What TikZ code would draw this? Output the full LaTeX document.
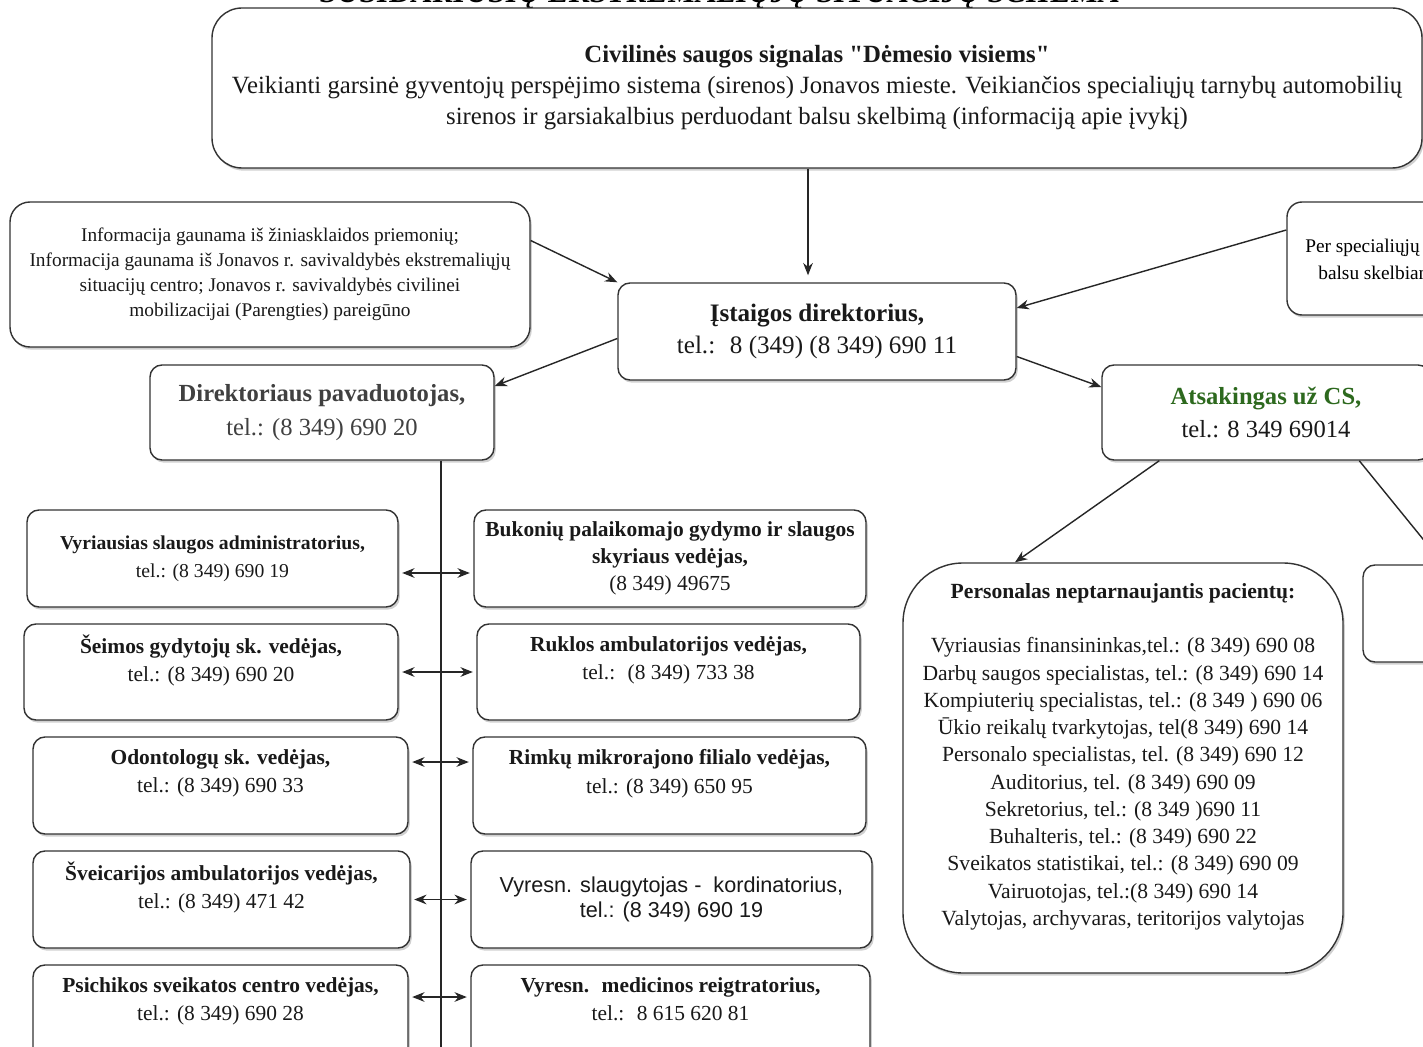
\documentclass[tikz,border=0pt]{standalone}
\usepackage{fontspec}
\setmainfont{Liberation Serif}[Ligatures=TeXOff]
\newfontfamily\arialfont{Liberation Sans}
\usetikzlibrary{arrows.meta}
\usetikzlibrary{shadows}
\definecolor{csgreen}{RGB}{45,105,30}
\definecolor{txtgray}{RGB}{64,64,64}

\begin{document}
\begin{tikzpicture}[x=0.02cm, y=-0.02cm,
		>={Stealth[length=7pt,width=5.5pt]},
		box/.style={draw=black!80, line width=0.8pt, fill=white, rounded corners=0.24cm,
			align=center, inner sep=0pt, text=black!90,
			drop shadow={shadow xshift=1pt, shadow yshift=-1.5pt, opacity=0.3, fill=black!60}},
		sz/.style 2 args={minimum width=#1*0.02cm, minimum height=#2*0.02cm},
		big/.style={font=\fontsize{14.3}{18.3}\selectfont},
		mid/.style={font=\fontsize{12.2}{16}\selectfont},
		sml/.style={font=\fontsize{11}{14.2}\selectfont}]
	
	\fill[white] (0,0) rectangle (1423,1047);
	\useasboundingbox (0,0) rectangle (1423,1047);
	
	% title, cut at the top edge
	\node[font=\fontsize{17.8}{20}\bfseries\itshape\selectfont, anchor=base] (title) at (720,3)
		{SUSIDARIUSIŲ EKSTREMALIŲJŲ SITUACIJŲ SCHEMA};
	
	\node[box, sz={1210}{160}, rounded corners=0.6cm, font=\fontsize{14.1}{17.6}\selectfont] (sig) at (817,88)
		{\textbf{Civilinės saugos signalas "Dėmesio visiems"}\\
		 Veikianti garsinė gyventojų perspėjimo sistema (sirenos) Jonavos mieste. Veikiančios specialiųjų tarnybų automobilių\\
		 sirenos ir garsiakalbius perduodant balsu skelbimą (informaciją apie įvykį)};
	
	\node[box, sz={520}{145}, rounded corners=0.4cm, sml] (info) at (270,274.5)
		{Informacija gaunama iš žiniasklaidos priemonių;\\
		 Informacija gaunama iš Jonavos r. savivaldybės ekstremaliųjų\\
		 situacijų centro; Jonavos r. savivaldybės civilinei\\
		 mobilizacijai (Parengties) pareigūno};
	
	\node[box, sz={313}{113}, rounded corners=0.3cm] (spec) at (1443.5,258.5) {};
	\node[font=\fontsize{11}{15.4}\selectfont, anchor=base west, align=left, inner sep=0pt] (spec-t) at (1305,280)
		{Per specialiųjų tarnybų\\\hspace*{0.26cm}balsu skelbiamą};
	
	\node[box, sz={398}{97}, big] (dir) at (817,331.5)
		{\textbf{Įstaigos direktorius,}\\tel.:~ 8 (349) (8 349) 690 11};
	\node[box, sz={344}{95}, font=\fontsize{14}{19}\selectfont, text=txtgray] (pav) at (322,412.5)
		{\textbf{Direktoriaus pavaduotojas,}\\tel.: (8 349) 690 20};
	\node[box, sz={328}{95}, font=\fontsize{14}{19}\selectfont] (cs) at (1266,412.5)
		{\textbf{\textcolor{csgreen}{Atsakingas už CS,}}\\tel.: 8 349 69014};
	
	\node[box, sz={440}{410}, rounded corners=1.2cm, font=\fontsize{12.3}{15.5}\selectfont] (pers) at (1123,768)
		{\textbf{Personalas neptarnaujantis pacientų:}\\ ~\\
		 Vyriausias finansininkas,tel.: (8 349) 690 08\\
		 Darbų saugos specialistas, tel.: (8 349) 690 14\\
		 Kompiuterių specialistas, tel.: (8 349 ) 690 06\\
		 Ūkio reikalų tvarkytojas, tel(8 349) 690 14\\
		 Personalo specialistas, tel. (8 349) 690 12\\
		 Auditorius, tel. (8 349) 690 09\\
		 Sekretorius, tel.: (8 349 )690 11\\
		 Buhalteris, tel.: (8 349) 690 22\\
		 Sveikatos statistikai, tel.: (8 349) 690 09\\
		 Vairuotojas, tel.:(8 349) 690 14\\
		 Valytojas, archyvaras, teritorijos valytojas\\ ~};
	\node[box, sz={237}{97}] (cut2) at (1481.5,613.5) {};
	
	% left column
	\node[box, sz={371}{97}, font=\fontsize{11.2}{16}\selectfont] (vsa) at (212.5,558.5)
		{\textbf{Vyriausias slaugos administratorius,}\\tel.: (8 349) 690 19};
	\node[box, sz={374}{96}, mid] (sgv) at (211,672)
		{\textbf{Šeimos gydytojų sk. vedėjas,}\\tel.: (8 349) 690 20\\ ~};
	\node[box, sz={375}{97}, mid] (odo) at (220.5,785.5)
		{\textbf{Odontologų sk. vedėjas,}\\tel.: (8 349) 690 33\\ ~};
	\node[box, sz={377}{97}, mid] (sva) at (221.5,899.5)
		{\textbf{Šveicarijos ambulatorijos vedėjas,}\\tel.: (8 349) 471 42\\ ~};
	\node[box, sz={375}{97}, mid] (psi) at (220.5,1013.5)
		{\textbf{Psichikos sveikatos centro vedėjas,}\\tel.: (8 349) 690 28\\ ~};
	
	% right column
	\node[box, sz={392}{97}, font=\fontsize{12.2}{15.4}\selectfont] (buk) at (670,558.5)
		{\textbf{Bukonių palaikomajo gydymo ir slaugos}\\\textbf{skyriaus vedėjas,}\\(8 349) 49675};
	\node[box, sz={383}{96}, mid] (ruk) at (668.5,672)
		{\textbf{Ruklos ambulatorijos vedėjas,}\\tel.:~ (8 349) 733 38\\ ~};
	\node[box, sz={393}{97}, mid] (rim) at (669.5,785.5)
		{\textbf{Rimkų mikrorajono filialo vedėjas,}\\tel.: (8 349) 650 95\\ ~};
	\node[box, sz={401}{97}, font=\arialfont\fontsize{12.3}{13.9}\selectfont] (vsk) at (671.5,899.5)
		{Vyresn. slaugytojas -~ kordinatorius,\\tel.: (8 349) 690 19};
	\node[box, sz={399}{97}, mid] (vmr) at (670.5,1013.5)
		{\textbf{Vyresn.~ medicinos reigtratorius,}\\tel.:~ 8 615 620 81\\ ~};
	
	\coordinate (vend) at (441,1060);
	
	\begin{scope}[every edge/.style={draw=black!85, line width=0.8pt}]
		\path [->] ([xshift=-0.18cm]sig.south) edge[shorten >=4pt] ([xshift=-0.18cm]dir.north);
		\path [->] ([yshift=0.68cm]info.east) edge (dir.north west);
		\path [->] ([yshift=0.57cm]spec.west) edge ([yshift=0.47cm]dir.east);
		\path [->] ([yshift=-0.14cm]dir.west) edge ([yshift=0.53cm]pav.east);
		\path [->] ([yshift=-0.5cm]dir.east) edge ([yshift=0.51cm]cs.west);
		\path [->] ([xshift=1.16cm]cs.south west) edge ([xshift=-2.16cm]pers.north);
		\path [->] ([xshift=5.16cm]cs.south west) edge ([xshift=-0.76cm]cut2.north);
		\path (pav.south -| vend) edge (vend);
		\path [<->] ([yshift=-0.29cm]vsa.east) edge[shorten <=2pt, shorten >=2pt] ([yshift=-0.29cm]buk.west);
		\path [<->] (sgv.east) edge[shorten <=2pt, shorten >=2pt] (ruk.west);
		\path [<->] ([yshift=0.47cm]odo.east) edge[shorten <=2pt, shorten >=2pt] ([yshift=0.47cm]rim.west);
		\path [<->] (sva.east) edge[shorten <=2pt, shorten >=2pt] (vsk.west);
		\path [<->] ([yshift=0.33cm]psi.east) edge[shorten <=2pt, shorten >=2pt] ([yshift=0.33cm]vmr.west);
	\end{scope}
\end{tikzpicture}
\end{document}
